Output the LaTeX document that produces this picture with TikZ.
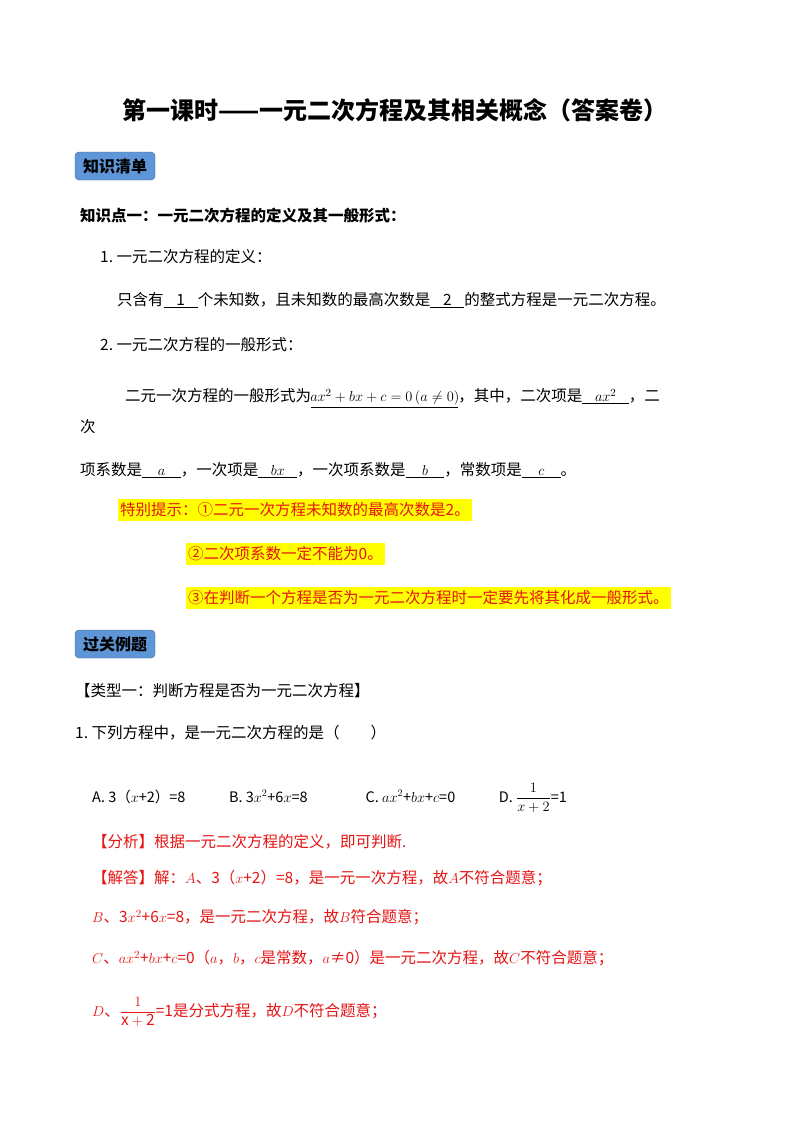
\documentclass[tikz,border=0pt]{standalone}
\usepackage{fontspec}
\setmainfont{Noto Sans CJK SC}
\usepackage{amsmath}
\definecolor{ans}{RGB}{230,20,20}
\definecolor{badge}{RGB}{95,150,215}
\definecolor{hl}{RGB}{255,255,0}
\newcommand{\blk}[2][2.2em]{\underline{\makebox[#1]{#2}}}
\begin{document}
\begin{tikzpicture}[x=1pt,y=-1pt,
  t/.style={anchor=west,inner sep=0pt,font=\fontsize{15.5}{18}\selectfont},
  r/.style={t,text=ans},
  bd/.style={anchor=center,fill=badge,draw=badge!70!black,rounded corners=4pt,minimum width=80pt,minimum height=28pt,font=\fontsize{16}{19}\selectfont\bfseries},
  hlb/.style={t,text=ans,fill=hl,inner ysep=4pt,inner xsep=2pt}]
\useasboundingbox (0,0) rectangle (800,1132);
\fill[white] (0,0) rectangle (800,1132);
\node[anchor=center,font=\fontsize{24}{28}\selectfont\bfseries] (title) at (395,110) {第一课时——一元二次方程及其相关概念（答案卷）};
\node[bd] (b1) at (115,166) {知识清单};
\node[t,font=\fontsize{15.5}{18}\selectfont\bfseries] (k1) at (80,216) {知识点一：一元二次方程的定义及其一般形式：};
\node[t] (l1) at (100,257) {1.\ 一元二次方程的定义：};
\node[t] (l2) at (117,300) {只含有\blk{1}个未知数，且未知数的最高次数是\blk{2}的整式方程是一元二次方程。};
\node[t] (l3) at (100,345) {2.\ 一元二次方程的一般形式：};
\node[t] (l4) at (125,398) {二元一次方程的一般形式为\blk[9.5em]{$ax^2+bx+c=0\,(a\neq0)$}，其中，二次项是\blk[3em]{$ax^2$}，二};
\node[t] (l5) at (80,427) {次};
\node[t] (l6) at (80,470) {项系数是\blk[2.5em]{$a$}，一次项是\blk[2.5em]{$bx$}，一次项系数是\blk[2.5em]{$b$}，常数项是\blk[2.5em]{$c$}。};
\node[hlb] (h1) at (118,510) {特别提示：①二元一次方程未知数的最高次数是2。};
\node[hlb] (h2) at (186,554) {②二次项系数一定不能为0。};
\node[hlb] (h3) at (186,598) {③在判断一个方程是否为一元二次方程时一定要先将其化成一般形式。};
\node[bd] (b2) at (115,644) {过关例题};
\node[t] (ty) at (75,691) {【类型一：判断方程是否为一元二次方程】};
\node[t] (q1) at (75,733) {1.\ 下列方程中，是一元二次方程的是（\qquad）};
\node[t,font=\fontsize{14.5}{17}\selectfont] (opt) at (92,798) {A.\ 3（$x$+2）=8\qquad\quad B.\ 3$x^2$+6$x$=8\qquad\qquad C.\ $ax^2$+$bx$+$c$=0\qquad\quad D.\ $\dfrac{1}{x+2}$=1};
\node[r] (a1) at (92,842) {【分析】根据一元二次方程的定义，即可判断.};
\node[r] (a2) at (92,878) {【解答】解：$A$、3（$x$+2）=8，是一元一次方程，故$A$不符合题意；};
\node[r] (a3) at (92,917) {$B$、3$x^2$+6$x$=8，是一元二次方程，故$B$符合题意；};
\node[r] (a4) at (92,958) {$C$、$ax^2$+$bx$+$c$=0（$a$，$b$，$c$是常数，$a$≠0）是一元二次方程，故$C$不符合题意；};
\node[r] (a5) at (92,1012) {$D$、$\dfrac{1}{\mathrm{x+2}}$=1是分式方程，故$D$不符合题意；};
\end{tikzpicture}
\end{document}
